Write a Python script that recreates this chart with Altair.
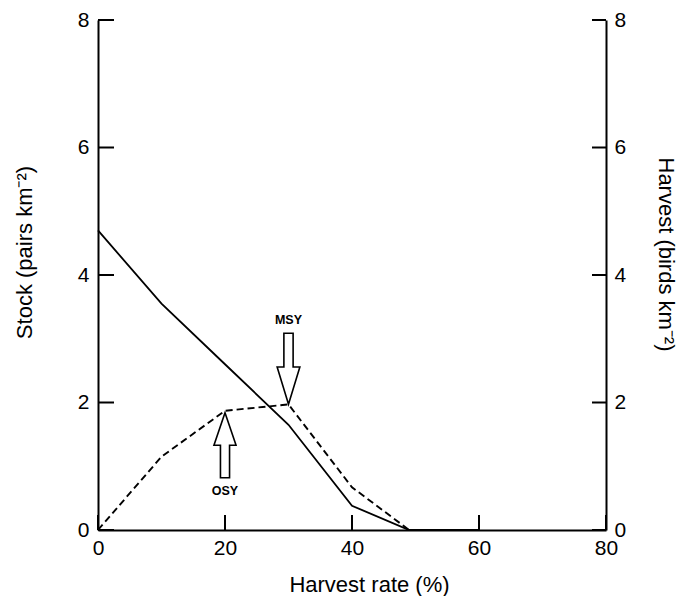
import altair as alt
import pandas as pd

# ---- data ----
harvest_rate = [0, 10, 20, 30, 40, 49, 60]
stock = [4.7, 3.55, 2.6, 1.65, 0.38, 0.0, 0.0]
harvest = [0.0, 1.15, 1.87, 1.97, 0.67, 0.0, 0.0]

x_ticks = [0, 20, 40, 60, 80]
y_ticks = [0, 2, 4, 6, 8]

arrow_names = ["MSY", "OSY"]
arrow_x = [30, 20]
arrow_y = [2.53, 1.33]          # centre of each arrow
label_y = [3.29, 0.61]

W, H = 508, 510
FONT = "Liberation Sans"

df_stock = pd.DataFrame({"x": harvest_rate, "y": stock})
df_harv = pd.DataFrame({"x": harvest_rate, "y": harvest})
df_xt = pd.DataFrame({"x": x_ticks})
df_yt = pd.DataFrame({"y": y_ticks})
df_arrow = pd.DataFrame({"x": arrow_x, "y": arrow_y, "name": arrow_names})
df_lab = pd.DataFrame({"x": arrow_x, "y": label_y, "name": arrow_names})

x_enc = alt.X("x:Q", scale=alt.Scale(domain=[0, 80], nice=False),
              axis=alt.Axis(values=x_ticks, title="Harvest rate (%)",
                            labelPadding=7, titlePadding=16, titleX=271,
                            labelFlush=False, labelOverlap=False))
yl_enc = alt.Y("y:Q", scale=alt.Scale(domain=[0, 8], nice=False),
               axis=alt.Axis(values=y_ticks, orient="left",
                             title="Stock (pairs km⁻²)",
                             labelPadding=9, titlePadding=41, titleY=232,
                             labelFlush=False, labelOverlap=False))
yr_enc = alt.Y("y:Q", scale=alt.Scale(domain=[0, 8], nice=False),
               axis=alt.Axis(values=y_ticks, orient="right",
                             title="Harvest (birds km⁻²)",
                             labelPadding=8, titlePadding=28, titleY=234,
                             labelFlush=False, labelOverlap=False))

stock_line = alt.Chart(df_stock).mark_line(color="black", strokeWidth=1.8).encode(x=x_enc, y=yl_enc)
x_tick_marks = alt.Chart(df_xt).mark_rule(color="black", strokeWidth=2).encode(
    x=x_enc, y=alt.value(H), y2=alt.value(H - 15))
yl_tick_marks = alt.Chart(df_yt).mark_rule(color="black", strokeWidth=2).encode(
    y=yl_enc, x=alt.value(0), x2=alt.value(16))

DOWN = "M -0.13 -1 L 0.13 -1 L 0.13 -0.05 L 0.32 -0.05 L 0 1 L -0.32 -0.05 L -0.13 -0.05 Z"
UP = "M -0.14 1 L 0.14 1 L 0.14 0 L 0.34 0 L 0 -1 L -0.34 0 L -0.14 0 Z"

msy_arrow = alt.Chart(df_arrow).transform_filter(alt.datum.name == "MSY").mark_point(
    shape=DOWN, size=71 * 71, filled=True, fill="white", stroke="black",
    strokeWidth=1.6, opacity=1).encode(x=x_enc, y=yl_enc)
osy_arrow = alt.Chart(df_arrow).transform_filter(alt.datum.name == "OSY").mark_point(
    shape=UP, size=65 * 65, filled=True, fill="white", stroke="black",
    strokeWidth=1.6, opacity=1).encode(x=x_enc, y=yl_enc)
labels = alt.Chart(df_lab).mark_text(font=FONT, fontSize=12.5, fontWeight="bold",
                                     color="black").encode(x=x_enc, y=yl_enc, text="name:N")

left = alt.layer(stock_line, x_tick_marks, yl_tick_marks, msy_arrow, osy_arrow, labels)

harv_line = alt.Chart(df_harv).mark_line(color="black", strokeWidth=1.9,
                                         strokeDash=[7, 4]).encode(x=x_enc, y=yr_enc)
yr_tick_marks = alt.Chart(df_yt).mark_rule(color="black", strokeWidth=2).encode(
    y=yr_enc, x=alt.value(W - 14), x2=alt.value(W))
right = alt.layer(harv_line, yr_tick_marks)

chart = alt.layer(left, right).resolve_scale(y="independent").properties(
    width=W, height=H,
    autosize=alt.AutoSizeParams(type="none"),
    padding={"left": 90, "top": 12, "right": 72, "bottom": 66},
).configure_view(stroke=None).configure_axis(
    grid=False, tickSize=0, domainColor="black", domainWidth=2,
    labelFont=FONT, labelFontSize=21, labelColor="black",
    titleFont=FONT, titleFontSize=22, titleFontWeight="normal", titleColor="black",
)

chart.save("out.html", embed_options={"renderer": "svg", "actions": False})
